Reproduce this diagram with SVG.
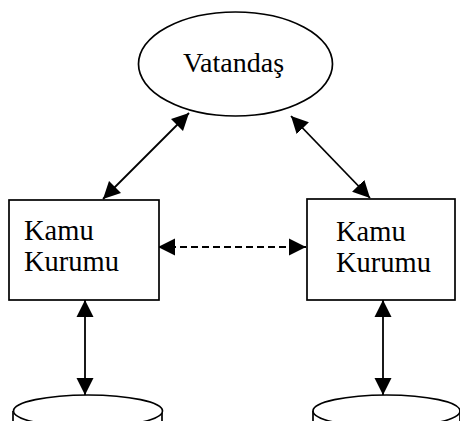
<svg xmlns="http://www.w3.org/2000/svg" width="460" height="421" viewBox="0 0 460 421">
<style>
.shape{fill:#fff;stroke:#000;stroke-width:1.7}
.lbl{font-family:"Liberation Serif","Times New Roman",serif;font-size:28.5px;fill:#000}
.big{font-size:28px}
.conn{stroke:#000;stroke-width:1.8;fill:none;marker-start:url(#ah);marker-end:url(#ah)}
.dash{stroke-dasharray:7 4}
</style>
<defs>
<marker id="ah" markerUnits="userSpaceOnUse" markerWidth="18" markerHeight="18" refX="17" refY="9" orient="auto-start-reverse" viewBox="0 0 18 18">
<path d="M0,0.5 L17,9 L0,17.5 z" fill="#000"/>
</marker>
</defs>
<rect width="460" height="421" fill="#fff"/>
<g id="connectors">
<line class="conn" x1="103" y1="199" x2="189" y2="113"/>
<line class="conn" x1="291" y1="116" x2="370" y2="198"/>
<line class="conn dash" x1="158" y1="247" x2="306" y2="247"/>
<line class="conn" x1="85" y1="300" x2="85" y2="395"/>
<line class="conn" x1="383" y1="300" x2="383" y2="395"/>
</g>
<g id="vatandas">
<ellipse class="shape" cx="235.5" cy="64" rx="97" ry="52"/>
<text class="lbl big" x="183" y="72">Vatandaş</text>
</g>
<g id="kamu1">
<rect class="shape" x="9" y="200" width="150" height="100"/>
<text class="lbl" x="24" y="240">Kamu</text>
<text class="lbl" x="24" y="271">Kurumu</text>
</g>
<g id="kamu2">
<rect class="shape" x="307" y="199" width="148" height="101"/>
<text class="lbl" x="336" y="241">Kamu</text>
<text class="lbl" x="336" y="272">Kurumu</text>
</g>
<g id="db1">
<path class="shape" d="M13,411 L13,430 L162,430 L162,411"/>
<ellipse class="shape" cx="88" cy="411" rx="74.5" ry="16"/>
</g>
<g id="db2">
<path class="shape" d="M313,411 L313,430 L460,430 L460,411"/>
<ellipse class="shape" cx="386.5" cy="411" rx="73.5" ry="16"/>
</g>
</svg>
